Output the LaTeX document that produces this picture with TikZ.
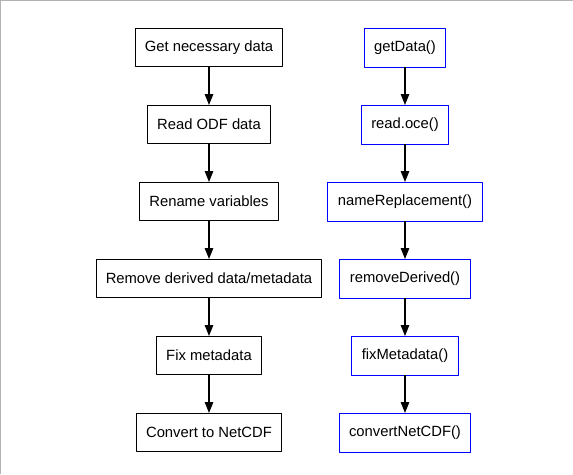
\documentclass[tikz,border=0pt]{standalone}
\usepackage{fontspec}
\setmainfont{Liberation Sans}
\usetikzlibrary{arrows.meta}
\definecolor{framegray}{RGB}{178,178,178}
\definecolor{funblue}{RGB}{0,0,255}
\tikzset{stepbox/.style={draw,line width=1pt,minimum height=38pt,inner xsep=9.5pt,inner ysep=0pt},
funbox/.style={stepbox,draw=none}}
\begin{document}
\begin{tikzpicture}[line join = round,>={Triangle[length=11pt,width=8.5pt]},x=1pt,y=1pt,font=\fontsize{14.8}{17}\selectfont]
\def\xl{209} \def\xr{405} \def\yo{-47.5} \def\dy{77}
\useasboundingbox (0,0) rectangle (573,-474);
\draw[line width=1pt,framegray] (0.5,-474)--(0.5,-0.5)--(573,-0.5);
% steps
\foreach \i/\s in {0/Get necessary data,1/Read ODF data,2/Rename variables,3/{Remove derived data/metadata},4/Fix metadata,5/Convert to NetCDF}
\node[stepbox] (s\i) at (\xl,\yo-\i*\dy) {\s};
% functions
\foreach \i/\f in {0/getData(),1/read.oce(),2/nameReplacement(),3/removeDerived(),4/fixMetadata(),5/convertNetCDF()}
\node[funbox] (f\i) at (\xr,\yo-\i*\dy) {\f};
\foreach \i in {0,...,5}
\draw[funblue,line width=1pt] (f\i.south west) rectangle (f\i.north east);
\foreach \i/\j in {0/1,1/2,2/3,3/4,4/5}
{\draw[->,line width=1.2pt] (s\i)--(s\j);
\draw[->,line width=1.2pt] (f\i)--(f\j);}
\end{tikzpicture}
\end{document}
